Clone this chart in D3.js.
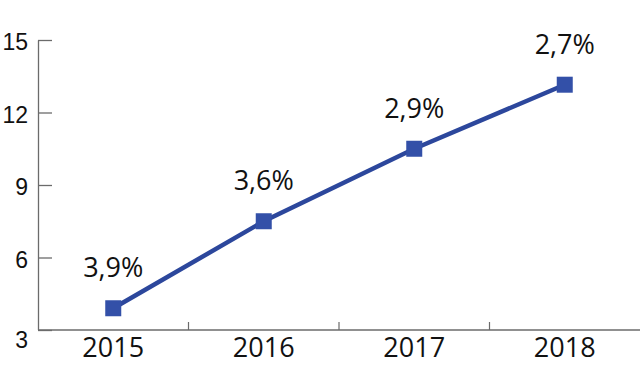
<!DOCTYPE html>
<html>
<head>
<meta charset="utf-8">
<script src="https://cdn.jsdelivr.net/npm/d3@7"></script>
<style>
  body { margin: 0; background: #fff; }
  svg { display: block; font-family: "Open Sans", sans-serif; }
</style>
</head>
<body>
<div id="chart"></div>
<script>
var years = ["2015", "2016", "2017", "2018"];
var values = [3.9, 7.5, 10.5, 13.15];
var growthLabels = ["3,9%", "3,6%", "2,9%", "2,7%"];
var yTicks = [3, 6, 9, 12, 15];

var data = years.map(function(y, i) {
  return { year: y, value: values[i], label: growthLabels[i] };
});

var margin = {top: 40, right: 0, bottom: 41, left: 38},
    width = 640 - margin.left - margin.right,
    height = 371 - margin.top - margin.bottom;

var svg = d3.select("#chart")
  .append("svg")
  .attr("width", 640)
  .attr("height", 371)
  .append("g")
  .attr("transform", "translate(" + margin.left + "," + margin.top + ")");

var x = d3.scaleBand()
  .domain(years)
  .range([0, width]);

var y = d3.scaleLinear()
  .domain([3, 15])
  .range([height, 0]);

var axisColor = "#6b6b6b";

// y axis: ticks point inward
var yAxis = svg.append("g")
  .call(d3.axisRight(y).tickValues(yTicks).tickSize(14).tickFormat(d3.format("d")));
yAxis.selectAll("line, path").attr("stroke", axisColor).attr("stroke-width", 1.3);
yAxis.select(".domain").attr("d", "M0.5," + height + "V0.5");
yAxis.selectAll("text")
  .attr("x", -10)
  .attr("dy", function(d) { return d === 3 ? "0.75em" : "0.42em"; })
  .attr("text-anchor", "end")
  .style("font-size", "23px")
  .attr("fill", "#111");

// x axis: ticks at category boundaries, pointing up
var xAxis = svg.append("g")
  .attr("transform", "translate(0," + height + ")");
xAxis.append("line")
  .attr("x1", 0).attr("x2", width)
  .attr("stroke", axisColor).attr("stroke-width", 1.6);
xAxis.selectAll(".sep")
  .data(years.slice(1))
  .enter().append("line")
  .attr("class", "sep")
  .attr("x1", function(d) { return x(d); })
  .attr("x2", function(d) { return x(d); })
  .attr("y1", 0).attr("y2", -8)
  .attr("stroke", axisColor).attr("stroke-width", 1.2);
xAxis.selectAll(".yr")
  .data(years)
  .enter().append("text")
  .attr("class", "yr")
  .attr("x", function(d) { return x(d) + x.bandwidth() / 2; })
  .attr("y", 27)
  .attr("text-anchor", "middle")
  .style("font-size", "27px")
  .attr("fill", "#111")
  .text(function(d) { return d; });

// the line
svg.append("path")
  .datum(data)
  .attr("fill", "none")
  .attr("stroke", "#2c479c")
  .attr("stroke-width", 4.5)
  .attr("d", d3.line()
    .x(function(d) { return x(d.year) + x.bandwidth() / 2; })
    .y(function(d) { return y(d.value); })
  );

// square markers
svg.selectAll(".dot")
  .data(data)
  .enter().append("rect")
  .attr("class", "dot")
  .attr("x", function(d) { return x(d.year) + x.bandwidth() / 2 - 8; })
  .attr("y", function(d) { return y(d.value) - 8; })
  .attr("width", 16)
  .attr("height", 16)
  .attr("fill", "#3350a8");

// growth labels
svg.selectAll(".lbl")
  .data(data)
  .enter().append("text")
  .attr("class", "lbl")
  .attr("x", function(d) { return x(d.year) + x.bandwidth() / 2; })
  .attr("y", function(d) { return y(d.value) - 31; })
  .attr("text-anchor", "middle")
  .style("font-size", "27px")
  .attr("fill", "#111")
  .text(function(d) { return d.label; });
</script>
</body>
</html>
